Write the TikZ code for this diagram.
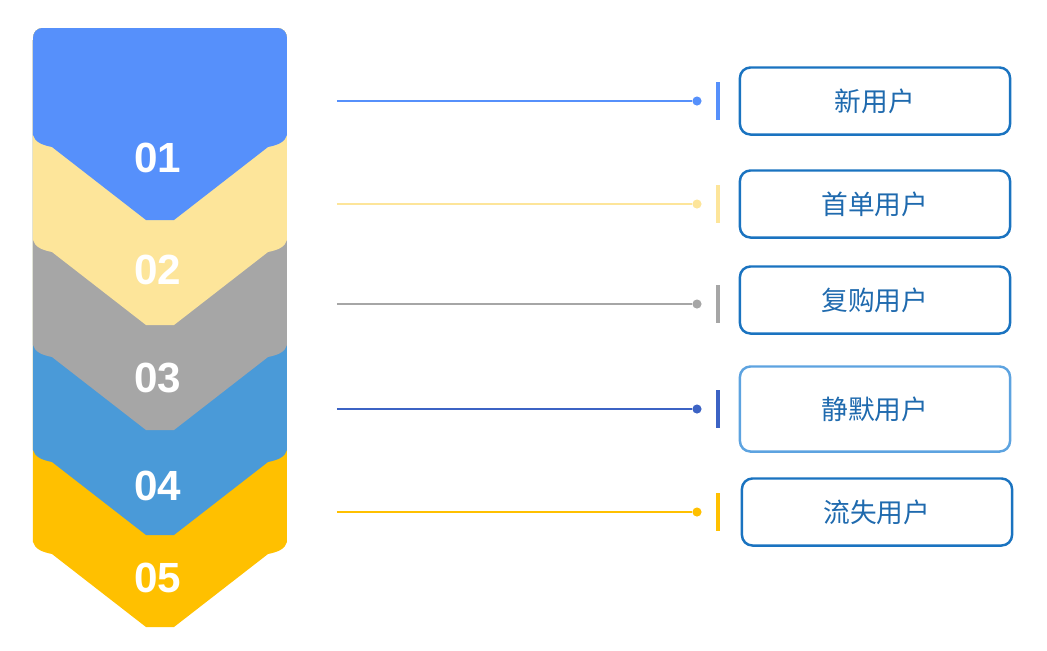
\documentclass[tikz,border=0pt]{standalone}
\usepackage{fontspec}
\setmainfont{Liberation Sans}
\newfontfamily\cjk{Noto Sans CJK SC}
\begin{document}
\begin{tikzpicture}[x=0.01cm,y=-0.01cm,
  num/.style={text=white,font=\bfseries\fontsize{12}{12}\selectfont},
  lbl/.style={draw=#1,line width=0.7pt,rounded corners=3pt,minimum width=2.7cm,minimum height=0.67cm,font=\cjk\fontsize{7.6}{8}\selectfont,text=boxtext},
  dot/.style={circle,fill=#1,inner sep=0pt,minimum size=2.6pt},
  bar/.style={draw=#1,line width=1.3pt}]
\definecolor{c1}{HTML}{5690FB}
\definecolor{c2}{HTML}{FDE59A}
\definecolor{c3}{HTML}{A6A6A6}
\definecolor{c4}{HTML}{4A9AD8}
\definecolor{c5}{HTML}{FFC000}
\definecolor{l4}{HTML}{3C63C4}
\definecolor{boxline}{HTML}{1A73C0}
\definecolor{boxlight}{HTML}{5DA3E0}
\definecolor{boxtext}{HTML}{1F6AAE}
\useasboundingbox (0,0) rectangle (1047,650);
\foreach \T/\c in {627/c5,535/c4,430/c3,325/c2,220/c1}{
  \fill[\c] (33,40) to[out=-90,in=-90,looseness=0] (33,40) -- (33,\T-85)
     .. controls (35,\T-78) and (42,\T-75) .. (52,\T-73) -- (146,\T) -- (174,\T) -- (268,\T-73)
     .. controls (278,\T-75) and (285,\T-78) .. (287,\T-85) -- (287,40)
     .. controls (287,32) and (284,28) .. (276,28) -- (44,28) .. controls (36,28) and (33,32) .. (33,40) -- cycle;
}
\node[num] (n1) at (158,158) {01};
\node[num] (n2) at (158,270) {02};
\node[num] (n3) at (158,378) {03};
\node[num] (n4) at (158,486) {04};
\node[num] (n5) at (158,578) {05};
\foreach \i/\y/\lc/\bc/\x/\h in {1/101/c1/boxline/875/68,2/204/c2/boxline/875/68,3/304/c3/boxline/875/68,4/409/l4/boxlight/875/85,5/512/c5/boxline/877/68}{
  \coordinate (s\i) at (337,\y);
  \node[dot=\lc] (d\i) at (697,\y) {};
  \draw[\lc,line width=0.5pt] (s\i) -- (d\i);
  \coordinate (ba\i) at (718,\y-19);
  \coordinate (bb\i) at (718,\y+19);
  \draw[bar=\lc] (ba\i) -- (bb\i);
}
\node[lbl=boxline] (b1) at (875,101) {新用户};
\node[lbl=boxline] (b2) at (875,204) {首单用户};
\node[lbl=boxline] (b3) at (875,300) {复购用户};
\node[lbl=boxlight,minimum height=0.85cm] (b4) at (875,409) {静默用户};
\node[lbl=boxline] (b5) at (877,512) {流失用户};
\end{tikzpicture}
\end{document}
